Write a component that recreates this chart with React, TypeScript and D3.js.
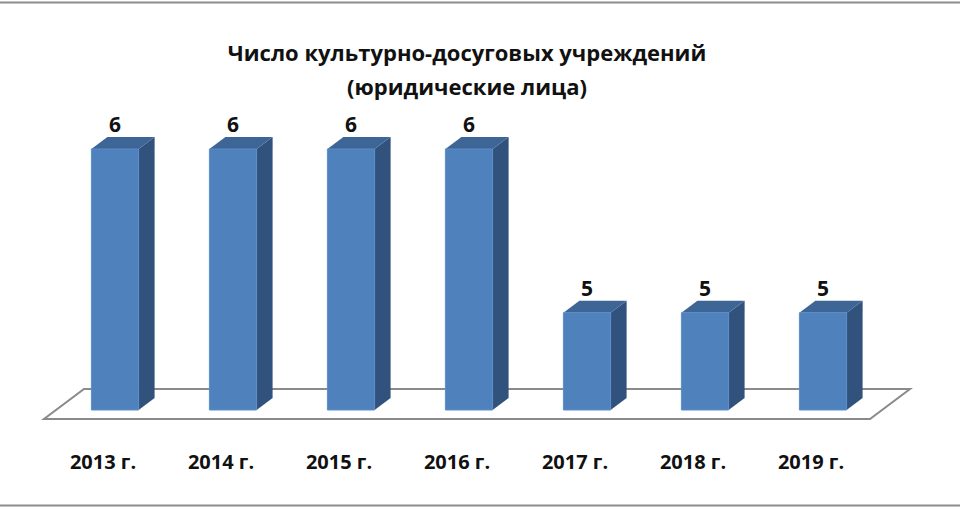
import * as d3 from 'd3';

const CATEGORIES = ['2013 г.', '2014 г.', '2015 г.', '2016 г.', '2017 г.', '2018 г.', '2019 г.'];
const VALUES = [6, 6, 6, 6, 5, 5, 5];
const TITLE_LINES = ['Число культурно-досуговых учреждений', '(юридические лица)'];

const W = 960, H = 510;
const FONT = '"Open Sans", "Noto Sans", sans-serif';

// 3D geometry: floor depth and bar depth offsets
const FLOOR = { x0: 44, x1: 870, yFront: 419, dx: 40, dy: 30 };
const BAR_SHIFT = { dx: 12, dy: -9 };   // bar front plane vs floor front edge
const DEPTH = { dx: 16, dy: 12 };

export default function App() {
  const y = d3.scaleLinear().domain([4.4, 6]).range([411, 149]);
  const xFloor = d3.scaleBand().domain(CATEGORIES).range([FLOOR.x0, FLOOR.x1]);
  const xBar = d3.scaleBand().domain(CATEGORIES)
    .range([FLOOR.x0 + BAR_SHIFT.dx, FLOOR.x1 + BAR_SHIFT.dx])
    .paddingInner(0.6).paddingOuter(0.3);
  const base = y.range()[0] + BAR_SHIFT.dy + 8; // bar bottom on floor

  const floorPts = [
    [FLOOR.x0, FLOOR.yFront],
    [FLOOR.x1, FLOOR.yFront],
    [FLOOR.x1 + FLOOR.dx, FLOOR.yFront - FLOOR.dy],
    [FLOOR.x0 + FLOOR.dx, FLOOR.yFront - FLOOR.dy],
  ].map(p => p.join(',')).join(' ');

  const bw = xBar.bandwidth();

  return (
    <svg width={W} height={H} style={{ position: 'absolute', left: 0, top: 0, background: '#fff' }}>
      <rect x={-5} y={2.5} width={W + 10} height={503} fill="#fff" stroke="#8c8c8c" strokeWidth={2} />

      {TITLE_LINES.map((t, i) => (
        <text key={t} x={467} y={61 + i * 34} textAnchor="middle" fontFamily={FONT}
          fontWeight={700} fontSize={22} fill="#111">{t}</text>
      ))}

      <polygon points={floorPts} fill="#fff" stroke="#8a8a8a" strokeWidth={2} />

      {CATEGORIES.map((c, i) => {
        const x0 = xBar(c) ?? 0;
        const x1 = x0 + bw;
        const top = y(VALUES[i]);
        const bot = base;
        const front = `${x0},${top} ${x1},${top} ${x1},${bot} ${x0},${bot}`;
        const side = `${x1},${top} ${x1 + DEPTH.dx},${top - DEPTH.dy} ${x1 + DEPTH.dx},${bot - DEPTH.dy} ${x1},${bot}`;
        const cap = `${x0},${top} ${x0 + DEPTH.dx},${top - DEPTH.dy} ${x1 + DEPTH.dx},${top - DEPTH.dy} ${x1},${top}`;
        return (
          <g key={c}>
            <polygon points={side} fill="#31527d" />
            <polygon points={cap} fill="#3d6596" />
            <polygon points={front} fill="#4f81bd" stroke="#5b8dc8" strokeWidth={1} />
            <text x={x0 + bw / 2} y={top - DEPTH.dy - 5} textAnchor="middle" fontFamily={FONT}
              fontWeight={700} fontSize={21} fill="#111">{VALUES[i]}</text>
          </g>
        );
      })}

      {CATEGORIES.map(c => (
        <text key={c} x={(xFloor(c) ?? 0) + xFloor.bandwidth() / 2} y={469} textAnchor="middle"
          fontFamily={FONT} fontWeight={700} fontSize={20} fill="#111">{c}</text>
      ))}
    </svg>
  );
}
